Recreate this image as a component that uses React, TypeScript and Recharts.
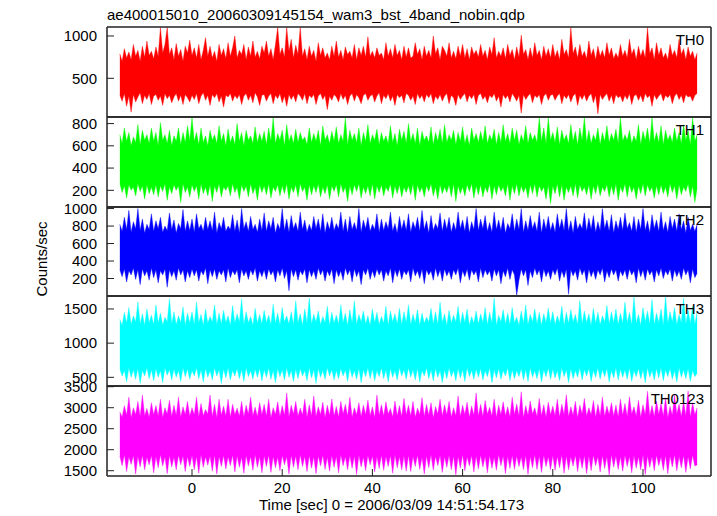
import { Area, ComposedChart, XAxis, YAxis } from "recharts";

// time of each sample [sec], 0 = 2006/03/09 14:51:54.173
const times = [
  -16, -15.5, -15, -14.5, -14, -13.5, -13, -12.5, -12, -11.5, -11, -10.5, -10, -9.5, -9, -8.5,
  -8, -7.5, -7, -6.5, -6, -5.5, -5, -4.5, -4, -3.5, -3, -2.5, -2, -1.5, -1, -0.5,
  0, 0.5, 1, 1.5, 2, 2.5, 3, 3.5, 4, 4.5, 5, 5.5, 6, 6.5, 7, 7.5,
  8, 8.5, 9, 9.5, 10, 10.5, 11, 11.5, 12, 12.5, 13, 13.5, 14, 14.5, 15, 15.5,
  16, 16.5, 17, 17.5, 18, 18.5, 19, 19.5, 20, 20.5, 21, 21.5, 22, 22.5, 23, 23.5,
  24, 24.5, 25, 25.5, 26, 26.5, 27, 27.5, 28, 28.5, 29, 29.5, 30, 30.5, 31, 31.5,
  32, 32.5, 33, 33.5, 34, 34.5, 35, 35.5, 36, 36.5, 37, 37.5, 38, 38.5, 39, 39.5,
  40, 40.5, 41, 41.5, 42, 42.5, 43, 43.5, 44, 44.5, 45, 45.5, 46, 46.5, 47, 47.5,
  48, 48.5, 49, 49.5, 50, 50.5, 51, 51.5, 52, 52.5, 53, 53.5, 54, 54.5, 55, 55.5,
  56, 56.5, 57, 57.5, 58, 58.5, 59, 59.5, 60, 60.5, 61, 61.5, 62, 62.5, 63, 63.5,
  64, 64.5, 65, 65.5, 66, 66.5, 67, 67.5, 68, 68.5, 69, 69.5, 70, 70.5, 71, 71.5,
  72, 72.5, 73, 73.5, 74, 74.5, 75, 75.5, 76, 76.5, 77, 77.5, 78, 78.5, 79, 79.5,
  80, 80.5, 81, 81.5, 82, 82.5, 83, 83.5, 84, 84.5, 85, 85.5, 86, 86.5, 87, 87.5,
  88, 88.5, 89, 89.5, 90, 90.5, 91, 91.5, 92, 92.5, 93, 93.5, 94, 94.5, 95, 95.5,
  96, 96.5, 97, 97.5, 98, 98.5, 99, 99.5, 100, 100.5, 101, 101.5, 102, 102.5, 103, 103.5,
  104, 104.5, 105, 105.5, 106, 106.5, 107, 107.5, 108, 108.5, 109, 109.5, 110, 110.5, 111, 111.5,
  112,
];

// upper / lower envelope of the counts in each 0.5 s bin
const th0Hi = [
  790, 700, 850, 740, 810, 720, 900, 760, 830, 700, 880, 750, 940, 770, 820, 730,
  870, 760, 1100, 800, 900, 1100, 780, 860, 720, 910, 760, 840, 700, 880, 800, 950,
  770, 860, 740, 900, 720, 830, 980, 760, 880, 740, 820, 700, 900, 770, 850, 730,
  920, 760, 860, 1000, 740, 830, 780, 900, 720, 870, 760, 940, 750, 820, 730, 880,
  800, 940, 760, 850, 720, 900, 1100, 780, 860, 750, 1100, 820, 960, 740, 890, 780,
  1100, 760, 850, 720, 880, 760, 830, 700, 920, 770, 860, 740, 800, 720, 880, 760,
  940, 750, 830, 720, 870, 780, 820, 740, 900, 720, 860, 770, 880, 750, 990, 760,
  820, 740, 860, 770, 800, 720, 920, 760, 850, 740, 900, 770, 830, 720, 880, 750,
  860, 740, 760, 920, 780, 850, 720, 880, 760, 830, 740, 1000, 790, 860, 720, 880,
  830, 760, 920, 740, 820, 730, 880, 760, 900, 740, 850, 720, 870, 780, 830, 750,
  900, 760, 830, 720, 870, 780, 980, 740, 820, 760, 860, 730, 900, 770, 840, 720,
  870, 750, 1010, 780, 840, 720, 860, 740, 920, 770, 830, 720, 880, 760, 850, 740,
  900, 750, 830, 720, 960, 780, 840, 740, 1100, 790, 870, 740, 900, 760, 820, 730,
  940, 770, 850, 720, 880, 760, 830, 740, 920, 770, 860, 730, 800, 740, 900, 760,
  830, 740, 960, 780, 850, 720, 880, 760, 840, 740, 1100, 790, 860, 720, 920, 770,
  860, 740, 800, 720, 900, 770, 830, 740, 960, 780, 850, 720, 870, 760, 820, 720,
  800,
];
const th0Lo = [
  300, 230, 320, 170, 290, 100, 310, 220, 280, 330, 200, 300, 250, 320, 190, 290,
  310, 240, 290, 180, 320, 260, 300, 210, 280, 320, 230, 300, 190, 310, 270, 220,
  300, 250, 320, 200, 290, 330, 240, 300, 180, 310, 270, 320, 220, 290, 160, 300,
  280, 320, 230, 300, 260, 310, 190, 290, 320, 240, 300, 210, 330, 280, 180, 300,
  310, 230, 290, 320, 200, 300, 260, 320, 210, 290, 170, 310, 250, 300, 220, 320,
  290, 240, 320, 200, 300, 270, 310, 190, 290, 320, 250, 300, 130, 290, 240, 310,
  280, 220, 320, 250, 300, 190, 290, 320, 230, 310, 270, 200, 300, 320, 240, 290,
  310, 220, 290, 330, 200, 300, 260, 320, 230, 290, 180, 310, 270, 300, 210, 320,
  300, 240, 290, 190, 320, 260, 300, 220, 310, 270, 320, 200, 290, 250, 310, 230,
  290, 320, 200, 300, 270, 180, 310, 250, 290, 320, 220, 300, 260, 310, 190, 300,
  320, 250, 290, 210, 300, 270, 320, 230, 290, 160, 310, 260, 300, 220, 320, 280,
  230, 300, 90, 310, 250, 290, 320, 210, 300, 270, 310, 190, 290, 320, 240, 300,
  310, 240, 290, 320, 200, 300, 260, 310, 220, 290, 320, 180, 300, 250, 310, 230,
  290, 320, 210, 300, 80, 310, 250, 290, 320, 230, 300, 200, 310, 270, 290, 220,
  300, 250, 320, 190, 290, 310, 240, 300, 220, 320, 270, 300, 170, 310, 250, 290,
  320, 230, 300, 270, 310, 200, 290, 320, 250, 300, 210, 310, 280, 290, 230, 300,
  320,
];
const th1Hi = [
  700, 620, 760, 640, 720, 600, 680, 630, 790, 610, 740, 650, 700, 620, 760, 640,
  720, 600, 810, 650, 700, 620, 740, 600, 690, 640, 760, 610, 720, 630, 780, 650,
  855, 640, 720, 610, 760, 630, 690, 600, 740, 650, 700, 620, 780, 640, 710, 600,
  750, 630, 690, 610, 800, 640, 720, 600, 740, 650, 690, 620, 770, 630, 710, 640,
  730, 610, 760, 640, 855, 620, 710, 650, 740, 600, 790, 640, 700, 620, 750, 630,
  720, 650, 680, 610, 760, 630, 710, 640, 740, 600, 780, 650, 700, 620, 730, 640,
  770, 620, 700, 640, 855, 610, 740, 650, 710, 630, 760, 600, 720, 640, 790, 620,
  700, 650, 750, 610, 720, 640, 690, 620, 780, 630, 710, 600, 750, 650, 730, 620,
  800, 640, 710, 620, 760, 600, 730, 650, 690, 630, 770, 610, 720, 640, 750, 620,
  790, 630, 700, 650, 740, 610, 720, 640, 770, 620, 700, 600, 760, 650, 710, 630,
  730, 640, 780, 620, 700, 650, 750, 610, 720, 630, 790, 640, 710, 620, 760, 650,
  740, 610, 700, 640, 780, 620, 720, 650, 700, 630, 855, 640, 760, 620, 850, 650,
  720, 630, 770, 610, 740, 650, 700, 620, 790, 640, 730, 610, 760, 650, 855, 630,
  740, 620, 700, 650, 760, 610, 720, 640, 780, 630, 710, 650, 750, 620, 855, 640,
  700, 650, 740, 620, 690, 640, 790, 610, 730, 650, 760, 620, 855, 640, 720, 630,
  780, 610, 740, 650, 700, 630, 760, 640, 720, 620, 790, 650, 740, 610, 855, 640,
  700,
];
const th1Lo = [
  260, 180, 240, 130, 250, 200, 230, 150, 260, 190, 240, 120, 250, 170, 230, 160,
  250, 140, 240, 190, 260, 110, 230, 170, 250, 200, 240, 90, 260, 180, 230, 140,
  250, 190, 240, 120, 260, 170, 230, 150, 250, 100, 240, 180, 260, 140, 230, 200,
  240, 150, 260, 180, 230, 120, 250, 190, 240, 140, 260, 170, 230, 110, 250, 180,
  240, 160, 260, 130, 230, 190, 250, 150, 240, 170, 260, 120, 230, 180, 250, 140,
  260, 190, 230, 110, 250, 160, 240, 180, 260, 140, 230, 170, 250, 120, 240, 190,
  250, 140, 260, 180, 230, 100, 240, 160, 250, 190, 260, 130, 230, 170, 240, 150,
  260, 120, 240, 180, 250, 150, 230, 190, 260, 130, 240, 170, 250, 140, 230, 180,
  240, 160, 260, 110, 250, 180, 230, 140, 240, 190, 260, 150, 230, 120, 250, 170,
  230, 180, 250, 140, 260, 100, 240, 170, 230, 150, 250, 190, 260, 130, 240, 160,
  250, 140, 230, 180, 260, 120, 240, 160, 250, 190, 230, 150, 260, 110, 240, 170,
  260, 150, 240, 180, 230, 130, 250, 170, 260, 140, 240, 190, 230, 120, 250, 80,
  240, 170, 260, 140, 250, 110, 230, 180, 240, 150, 260, 130, 250, 190, 230, 160,
  250, 120, 240, 170, 260, 150, 230, 190, 250, 140, 240, 160, 260, 110, 230, 180,
  260, 140, 250, 180, 230, 120, 240, 170, 260, 150, 250, 190, 230, 130, 240, 160,
  250, 170, 230, 140, 260, 180, 240, 120, 250, 160, 230, 190, 260, 140, 240, 90,
  220,
];
const th2Hi = [
  820, 740, 900, 760, 980, 730, 850, 770, 1000, 750, 880, 720, 820, 760, 940, 740,
  860, 770, 900, 730, 800, 750, 950, 760, 870, 720, 830, 770, 990, 740, 860, 750,
  880, 730, 940, 770, 820, 740, 900, 760, 860, 750, 960, 720, 840, 770, 900, 740,
  800, 760, 930, 740, 870, 720, 1000, 770, 850, 740, 910, 760, 820, 730, 880, 750,
  950, 740, 860, 770, 900, 720, 830, 760, 1000, 750, 880, 730, 920, 770, 840, 740,
  960, 760, 870, 730, 820, 750, 910, 770, 880, 740, 940, 720, 850, 760, 900, 750,
  830, 770, 960, 740, 880, 720, 910, 760, 840, 750, 1000, 730, 870, 770, 900, 740,
  820, 760, 940, 730, 880, 750, 850, 770, 960, 740, 830, 720, 910, 760, 870, 750,
  940, 730, 850, 770, 900, 740, 980, 760, 860, 720, 920, 750, 830, 770, 950, 740,
  880, 760, 900, 730, 840, 750, 960, 770, 870, 740, 910, 720, 850, 760, 1000, 750,
  880, 770, 920, 740, 840, 730, 960, 760, 870, 750, 900, 720, 830, 770, 940, 740,
  880, 760, 1000, 730, 860, 750, 920, 770, 850, 740, 960, 720, 880, 760, 910, 750,
  840, 730, 940, 770, 880, 750, 1000, 740, 860, 720, 910, 760, 830, 770, 950, 740,
  890, 760, 920, 730, 850, 750, 1000, 770, 870, 740, 930, 720, 860, 760, 900, 750,
  950, 770, 840, 740, 910, 730, 880, 760, 1000, 750, 860, 720, 930, 770, 870, 740,
  960, 750, 850, 730, 910, 770, 880, 740, 940, 760, 860, 720, 900, 750, 820, 740,
  820,
];
const th2Lo = [
  300, 220, 310, 160, 290, 240, 320, 190, 300, 130, 310, 230, 290, 180, 320, 210,
  300, 150, 290, 240, 310, 100, 300, 220, 290, 180, 320, 240, 300, 160, 290, 210,
  310, 230, 300, 170, 290, 240, 320, 140, 300, 220, 310, 190, 290, 240, 300, 160,
  320, 210, 290, 240, 300, 150, 310, 230, 290, 190, 300, 240, 320, 170, 290, 220,
  300, 190, 310, 240, 290, 160, 300, 230, 320, 200, 290, 60, 310, 220, 300, 180,
  290, 240, 310, 150, 300, 220, 290, 190, 320, 240, 300, 170, 290, 230, 310, 140,
  300, 220, 290, 180, 320, 240, 300, 160, 310, 220, 290, 130, 300, 240, 320, 190,
  290, 210, 310, 240, 300, 170, 290, 230, 320, 150, 300, 220, 310, 190, 290, 240,
  300, 160, 320, 230, 290, 200, 310, 140, 300, 240, 290, 180, 320, 220, 300, 170,
  310, 230, 290, 190, 300, 240, 320, 150, 290, 220, 310, 180, 300, 240, 290, 160,
  320, 210, 300, 240, 290, 170, 310, 230, 300, 140, 290, 220, 320, 190, 300, 240,
  10, 180, 310, 230, 300, 120, 290, 210, 320, 240, 300, 160, 310, 220, 290, 190,
  300, 240, 320, 170, 290, 210, 310, 20, 300, 230, 290, 180, 320, 240, 300, 150,
  310, 220, 290, 190, 300, 240, 320, 160, 290, 210, 310, 240, 300, 170, 290, 230,
  300, 190, 310, 240, 290, 150, 320, 220, 300, 180, 310, 240, 290, 160, 300, 230,
  320, 200, 290, 240, 310, 170, 300, 220, 290, 190, 320, 240, 300, 150, 310, 210,
  260,
];
const th3Hi = [
  1350, 1260, 1450, 1290, 1520, 1270, 1400, 1310, 1600, 1280, 1430, 1260, 1500, 1300, 1410, 1270,
  1560, 1290, 1440, 1260, 1380, 1310, 1650, 1280, 1460, 1270, 1400, 1300, 1530, 1260, 1440, 1290,
  1460, 1270, 1600, 1300, 1420, 1260, 1500, 1290, 1390, 1310, 1560, 1270, 1440, 1280, 1480, 1300,
  1400, 1260, 1550, 1290, 1430, 1310, 1650, 1270, 1460, 1300, 1390, 1260, 1510, 1290, 1420, 1280,
  1480, 1300, 1410, 1270, 1570, 1290, 1440, 1260, 1520, 1310, 1400, 1280, 1460, 1270, 1620, 1300,
  1430, 1260, 1500, 1290, 1660, 1280, 1420, 1310, 1470, 1270, 1390, 1300, 1540, 1260, 1450, 1290,
  1410, 1280, 1560, 1300, 1440, 1260, 1490, 1290, 1620, 1270, 1420, 1310, 1470, 1280, 1400, 1260,
  1500, 1300, 1450, 1270, 1390, 1290, 1540, 1260, 1470, 1310, 1430, 1280, 1510, 1270, 1460, 1300,
  1560, 1270, 1420, 1300, 1490, 1260, 1440, 1290, 1380, 1310, 1510, 1280, 1460, 1270, 1600, 1300,
  1430, 1260, 1480, 1290, 1410, 1310, 1540, 1270, 1450, 1300, 1500, 1260, 1390, 1290, 1470, 1280,
  1430, 1300, 1520, 1270, 1450, 1290, 1660, 1260, 1410, 1310, 1490, 1280, 1440, 1270, 1520, 1300,
  1380, 1260, 1470, 1290, 1560, 1270, 1420, 1310, 1500, 1280, 1450, 1260, 1430, 1300, 1510, 1290,
  1460, 1270, 1400, 1300, 1540, 1260, 1450, 1290, 1490, 1310, 1420, 1270, 1620, 1280, 1470, 1300,
  1430, 1260, 1510, 1290, 1450, 1270, 1400, 1310, 1550, 1280, 1460, 1300, 1500, 1270, 1440, 1290,
  1600, 1300, 1450, 1270, 1680, 1290, 1420, 1260, 1520, 1310, 1470, 1280, 1640, 1270, 1440, 1300,
  1500, 1260, 1685, 1290, 1460, 1310, 1520, 1270, 1420, 1300, 1660, 1280, 1480, 1290, 1540, 1270,
  1460,
];
const th3Lo = [
  620, 520, 600, 430, 640, 500, 610, 470, 630, 410, 600, 520, 640, 480, 610, 450,
  630, 500, 600, 420, 640, 530, 610, 460, 620, 500, 600, 440, 640, 510, 620, 470,
  600, 520, 640, 480, 610, 430, 630, 500, 600, 460, 640, 520, 610, 410, 620, 490,
  640, 460, 600, 520, 630, 480, 610, 440, 640, 510, 600, 470, 620, 500, 630, 450,
  610, 500, 640, 470, 600, 420, 630, 510, 610, 460, 640, 500, 600, 440, 620, 480,
  630, 520, 600, 450, 640, 490, 610, 410, 630, 500, 600, 470, 640, 520, 610, 460,
  600, 480, 630, 520, 610, 440, 640, 500, 600, 470, 630, 420, 610, 510, 640, 480,
  620, 450, 600, 510, 640, 480, 610, 430, 630, 500, 600, 460, 640, 520, 610, 470,
  640, 500, 610, 460, 630, 430, 600, 520, 640, 480, 610, 450, 630, 500, 600, 420,
  610, 480, 640, 510, 600, 450, 630, 490, 610, 440, 640, 510, 600, 470, 620, 500,
  630, 460, 600, 510, 640, 420, 610, 490, 630, 470, 600, 520, 640, 450, 610, 480,
  600, 510, 630, 460, 610, 440, 640, 500, 600, 480, 630, 430, 610, 510, 640, 470,
  620, 490, 600, 450, 640, 510, 610, 420, 630, 480, 600, 500, 640, 460, 610, 520,
  630, 440, 600, 500, 640, 470, 610, 510, 630, 430, 600, 490, 640, 460, 620, 500,
  610, 470, 640, 440, 600, 510, 630, 480, 610, 420, 640, 500, 600, 460, 630, 490,
  640, 450, 610, 510, 630, 470, 600, 430, 640, 500, 610, 480, 630, 440, 600, 510,
  560,
];
const th0123Hi = [
  2900, 2780, 3050, 2820, 3250, 2760, 3000, 2840, 3150, 2790, 3300, 2810, 2980, 2770, 3120, 2830,
  3050, 2800, 3200, 2760, 3000, 2850, 3180, 2790, 3060, 2820, 3250, 2770, 3020, 2840, 3150, 2800,
  3000, 2830, 3250, 2780, 3100, 2810, 2960, 2850, 3300, 2790, 3080, 2760, 3200, 2820, 3040, 2800,
  3200, 2770, 3080, 2840, 2990, 2800, 3150, 2780, 3060, 2850, 3250, 2810, 3010, 2790, 3120, 2830,
  3080, 2800, 3200, 2760, 3000, 2840, 3140, 2790, 3050, 2820, 3350, 2780, 3060, 2850, 3150, 2800,
  2990, 2830, 3200, 2770, 3070, 2810, 3280, 2790, 3020, 2840, 3130, 2760, 3060, 2820, 3210, 2800,
  3030, 2780, 3150, 2850, 3080, 2800, 3250, 2770, 3000, 2830, 3120, 2790, 3060, 2840, 3180, 2810,
  3020, 2760, 3300, 2820, 3070, 2800, 3140, 2850, 2980, 2780, 3160, 2810, 3050, 2790, 3220, 2830,
  3060, 2800, 3150, 2770, 2990, 2840, 3240, 2790, 3080, 2820, 3120, 2760, 3030, 2850, 3200, 2800,
  3070, 2830, 3150, 2780, 3000, 2810, 3280, 2790, 3060, 2840, 3130, 2770, 3040, 2820, 3350, 2800,
  3080, 2790, 3170, 2850, 3010, 2800, 3200, 2770, 3060, 2830, 3140, 2810, 3020, 2780, 3250, 2840,
  3090, 2800, 3380, 2760, 3050, 2820, 3160, 2850, 3000, 2790, 3220, 2810, 3070, 2770, 3130, 2830,
  3040, 2810, 3200, 2780, 3080, 2840, 3310, 2790, 3020, 2820, 3150, 2760, 3060, 2850, 3220, 2800,
  3000, 2830, 3170, 2770, 3080, 2810, 3250, 2790, 3040, 2840, 3120, 2800, 3060, 2780, 3200, 2820,
  3100, 2790, 3260, 2850, 3020, 2800, 3180, 2770, 3070, 2830, 3390, 2810, 3050, 2790, 3160, 2840,
  3100, 2800, 3240, 2760, 3030, 2820, 3300, 2850, 3080, 2790, 3150, 2810, 3400, 2770, 3120, 2830,
  3000,
];
const th0123Lo = [
  1850, 1620, 1880, 1480, 1830, 1650, 1860, 1420, 1840, 1590, 1870, 1520, 1820, 1640, 1860, 1450,
  1840, 1570, 1880, 1610, 1830, 1430, 1860, 1590, 1820, 1520, 1870, 1640, 1850, 1480, 1830, 1600,
  1860, 1520, 1840, 1440, 1880, 1580, 1830, 1630, 1850, 1490, 1870, 1420, 1840, 1600, 1860, 1540,
  1830, 1620, 1870, 1470, 1850, 1580, 1820, 1440, 1860, 1610, 1840, 1510, 1880, 1580, 1830, 1450,
  1850, 1600, 1870, 1460, 1840, 1570, 1820, 1500, 1860, 1640, 1830, 1420, 1870, 1580, 1850, 1520,
  1880, 1600, 1840, 1480, 1860, 1560, 1830, 1430, 1850, 1610, 1870, 1530, 1820, 1490, 1860, 1580,
  1840, 1450, 1880, 1620, 1830, 1520, 1860, 1560, 1850, 1410, 1870, 1590, 1820, 1500, 1860, 1640,
  1850, 1470, 1830, 1550, 1870, 1510, 1840, 1600, 1860, 1440, 1880, 1570, 1830, 1520, 1850, 1490,
  1860, 1480, 1840, 1600, 1870, 1530, 1820, 1420, 1850, 1570, 1880, 1510, 1840, 1620, 1860, 1460,
  1830, 1580, 1870, 1520, 1850, 1400, 1840, 1560, 1880, 1500, 1830, 1610, 1860, 1470, 1850, 1540,
  1870, 1590, 1840, 1450, 1860, 1560, 1820, 1510, 1880, 1620, 1850, 1430, 1840, 1550, 1870, 1530,
  1850, 1600, 1830, 1520, 1860, 1410, 1840, 1570, 1880, 1530, 1850, 1460, 1870, 1600, 1830, 1520,
  1860, 1510, 1840, 1570, 1880, 1440, 1850, 1520, 1830, 1610, 1870, 1480, 1840, 1560, 1860, 1430,
  1850, 1500, 1870, 1620, 1830, 1470, 1860, 1550, 1840, 1400, 1880, 1580, 1850, 1530, 1830, 1490,
  1870, 1600, 1840, 1450, 1860, 1560, 1830, 1520, 1880, 1410, 1850, 1580, 1840, 1500, 1870, 1620,
  1830, 1510, 1860, 1430, 1850, 1590, 1880, 1500, 1840, 1570, 1860, 1460, 1830, 1540, 1870, 1610,
  1640,
];

const xMajor = [0, 20, 40, 60, 80, 100];
const xMinor = [-10, 0, 10, 20, 30, 40, 50, 60, 70, 80, 90, 100, 110];

const FONT = "'Liberation Sans', Arial, Helvetica, sans-serif";
const W = 717;
const H = 516;
const LEFT = 107;
const RIGHT = 711;
const X_DOMAIN: [number, number] = [-18.85, 115.08];
const FRAME = "#222";

const panels = [
  {
    name: "TH0", color: "#ff0000", hi: th0Hi, lo: th0Lo, top: 27, bottom: 117,
    domain: [43, 1106], major: [500, 1000],
    minor: [100, 200, 300, 400, 500, 600, 700, 800, 900, 1000, 1100],
  },
  {
    name: "TH1", color: "#00ff00", hi: th1Hi, lo: th1Lo, top: 117, bottom: 207,
    domain: [50, 859], major: [200, 400, 600, 800],
    minor: [100, 200, 300, 400, 500, 600, 700, 800],
  },
  {
    name: "TH2", color: "#0000ff", hi: th2Hi, lo: th2Lo, top: 207, bottom: 296,
    domain: [0, 1018], major: [200, 400, 600, 800, 1000],
    minor: [100, 200, 300, 400, 500, 600, 700, 800, 900, 1000],
  },
  {
    name: "TH3", color: "#00ffff", hi: th3Hi, lo: th3Lo, top: 296, bottom: 386,
    domain: [373, 1690], major: [500, 1000, 1500],
    minor: [400, 500, 600, 700, 800, 900, 1000, 1100, 1200, 1300, 1400, 1500, 1600],
  },
  {
    name: "TH0123", color: "#ff00ff", hi: th0123Hi, lo: th0123Lo, top: 386, bottom: 476,
    domain: [1374, 3517], major: [1500, 2000, 2500, 3000, 3500],
    minor: [1400, 1500, 1600, 1700, 1800, 1900, 2000, 2100, 2200, 2300, 2400, 2500, 2600, 2700, 2800, 2900, 3000, 3100, 3200, 3300, 3400, 3500],
  },
];

type PanelDef = (typeof panels)[number];

const labelStyle = { fill: "#000", fontSize: 15, fontFamily: FONT };

// every panel is its own chart, laid over the others; two 1px axes sit on each side
function Panel({ p, last }: { p: PanelDef; last: boolean }) {
  const data = times.map((t, i) => ({ t, band: [p.lo[i], p.hi[i]] }));
  const common = { type: "number" as const, allowDataOverflow: true, interval: 0 as const };
  const line = { stroke: FRAME, strokeWidth: 1 };
  const frame = { stroke: FRAME, strokeWidth: 1.5 };
  return (
    <div style={{ position: "absolute", left: 0, top: 0 }}>
      <ComposedChart
        width={W}
        height={H}
        data={data}
        margin={{ top: p.top - 2, bottom: H - p.bottom - 2, left: LEFT - 2, right: W - RIGHT - 2 }}
      >
        <XAxis
          {...common}
          xAxisId="x"
          dataKey="t"
          domain={X_DOMAIN}
          ticks={xMajor}
          height={1}
          tickSize={-7}
          tickMargin={13}
          tickLine={line}
          axisLine={frame}
          tick={last ? labelStyle : false}
        />
        <XAxis {...common} xAxisId="xm" dataKey="t" domain={X_DOMAIN} ticks={xMinor} height={1} tickSize={-4.5} tickLine={line} axisLine={false} tick={false} />
        <XAxis {...common} xAxisId="xt" dataKey="t" orientation="top" domain={X_DOMAIN} ticks={xMajor} height={1} tickSize={-7} tickLine={line} axisLine={frame} tick={false} />
        <XAxis {...common} xAxisId="xtm" dataKey="t" orientation="top" domain={X_DOMAIN} ticks={xMinor} height={1} tickSize={-4.5} tickLine={line} axisLine={false} tick={false} />
        <YAxis
          {...common}
          yAxisId="y"
          domain={p.domain}
          ticks={p.major}
          width={1}
          tickSize={-7}
          tickMargin={17}
          tickLine={line}
          axisLine={frame}
          tick={labelStyle}
        />
        <YAxis {...common} yAxisId="ym" domain={p.domain} ticks={p.minor} width={1} tickSize={-4.5} tickLine={line} axisLine={false} tick={false} />
        <YAxis {...common} yAxisId="yr" orientation="right" domain={p.domain} ticks={p.major} width={1} tickSize={-7} tickLine={line} axisLine={frame} tick={false} />
        <YAxis {...common} yAxisId="yrm" orientation="right" domain={p.domain} ticks={p.minor} width={1} tickSize={-4.5} tickLine={line} axisLine={false} tick={false} />
        <Area
          xAxisId="x"
          yAxisId="y"
          dataKey="band"
          type="linear"
          stroke={p.color}
          strokeWidth={0.8}
          strokeOpacity={0.5}
          fill={p.color}
          fillOpacity={1}
          dot={false}
          activeDot={false}
          isAnimationActive={false}
        />
      </ComposedChart>
    </div>
  );
}

export default function App() {
  return (
    <div style={{ position: "absolute", left: 0, top: 0, width: W, height: H, background: "#fff", fontFamily: FONT }}>
      {panels.map((p, i) => (
        <Panel key={p.name} p={p} last={i === panels.length - 1} />
      ))}
      <svg width={W} height={H} style={{ position: "absolute", left: 0, top: 0, pointerEvents: "none" }}>
        <text x={LEFT} y={20} fontSize={15} fontFamily={FONT} fill="#000">
          ae400015010_20060309145154_wam3_bst_4band_nobin.qdp
        </text>
        <text transform="translate(47,259) rotate(-90)" textAnchor="middle" fontSize={15} fontFamily={FONT} fill="#000">
          Counts/sec
        </text>
        <text x={391.5} y={510} textAnchor="middle" fontSize={15} fontFamily={FONT} fill="#000">
          Time [sec] 0 = 2006/03/09 14:51:54.173
        </text>
        {panels.map((p) => (
          <text key={p.name} x={704} y={p.top + 17.5} textAnchor="end" fontSize={15} fontFamily={FONT} fill="#000">
            {p.name}
          </text>
        ))}
      </svg>
    </div>
  );
}
